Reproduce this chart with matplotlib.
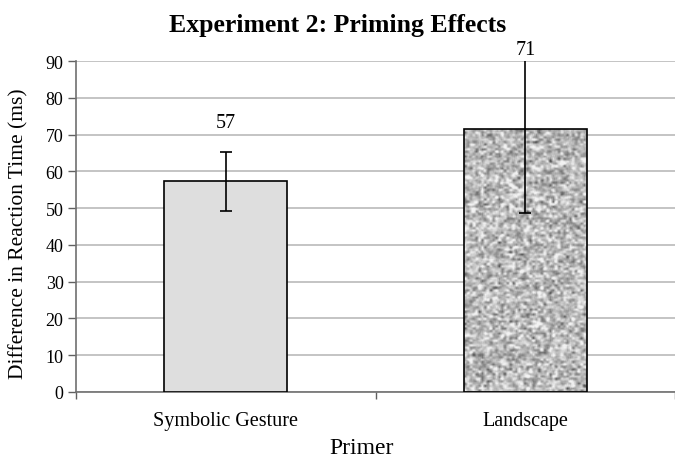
import matplotlib
matplotlib.use("Agg")
import matplotlib.pyplot as plt
import numpy as np

categories = ["Symbolic Gesture", "Landscape"]
means = [57.3, 71.5]
errors = [8.0, 22.7]
value_labels = ["57", "71"]
label_heights = [73.3, 93.2]
y_ticks = [0, 10, 20, 30, 40, 50, 60, 70, 80, 90]

plt.rcParams["font.family"] = ["Liberation Serif", "DejaVu Serif"]


def granite_texture(rng, h, w):
    # speckled gray fill, like the old Excel "granite" pattern
    coarse = rng.normal(size=(h // 3 + 2, w // 3 + 2))
    coarse = np.kron(coarse, np.ones((3, 3)))[:h, :w]
    fine = rng.normal(size=(h, w))
    tex = 0.55 * coarse + 0.45 * fine
    k = np.ones(3) / 3
    tex = np.apply_along_axis(lambda r: np.convolve(r, k, mode="same"), 1, tex)
    tex = np.apply_along_axis(lambda c: np.convolve(c, k, mode="same"), 0, tex)
    tex = (tex - tex.mean()) / tex.std()
    return np.clip(0.73 + 0.11 * tex, 0.3, 0.95)


fig = plt.figure(figsize=(6.75, 4.6), dpi=100)
ax = fig.add_axes([0.1126, 0.1457, 0.8874, 0.7195])

x = np.arange(len(categories))
bars = ax.bar(x, means, width=0.41, color=["#dedede", "none"],
              edgecolor="black", linewidth=1.2, zorder=3)

rng = np.random.default_rng(7)
bar = bars[1]
img = ax.imshow(granite_texture(rng, 330, 130), cmap="gray", vmin=0, vmax=1,
                extent=[bar.get_x(), bar.get_x() + bar.get_width(), 0, bar.get_height()],
                aspect="auto", interpolation="bilinear", zorder=2)
img.set_clip_path(bar)

ax.errorbar(x, means, yerr=errors, fmt="none", ecolor="black",
            elinewidth=1.2, capsize=4, capthick=1.2, zorder=4)

for xi, lab, ly in zip(x, value_labels, label_heights):
    ax.text(xi, ly, lab, ha="center", va="center", fontsize=14.5, clip_on=False)

ax.set_xlim(-0.5, 1.5)
ax.set_ylim(0, 90)
ax.set_yticks(y_ticks)
ax.set_xticks(x)
ax.set_xticklabels(categories, fontsize=14.5)
ax.set_xticks([-0.5, 0.5, 1.5], minor=True)
ax.tick_params(axis="x", which="major", length=0, pad=14)
ax.tick_params(axis="x", which="minor", length=5, color="#606060", width=1)
ax.tick_params(axis="y", length=6, color="#606060", width=1, labelsize=13, pad=3)

ax.yaxis.grid(True, color="#c4c4c4", linewidth=1.4, zorder=0)
ax.set_axisbelow(True)
for side in ["top", "right"]:
    ax.spines[side].set_visible(False)
for side in ["left", "bottom"]:
    ax.spines[side].set_color("#707070")
    ax.spines[side].set_linewidth(1.2)

ax.set_xlabel("Primer", fontsize=17)
ax.set_ylabel("Difference in Reaction Time (ms)", fontsize=15.5)
ax.xaxis.set_label_coords(0.477, -0.135)
ax.yaxis.set_label_coords(-0.08, 0.48)
fig.text(0.5, 0.944, "Experiment 2: Priming Effects", ha="center", va="center",
         fontsize=18.5, fontweight="bold")

fig.savefig("out.png", dpi=100)
